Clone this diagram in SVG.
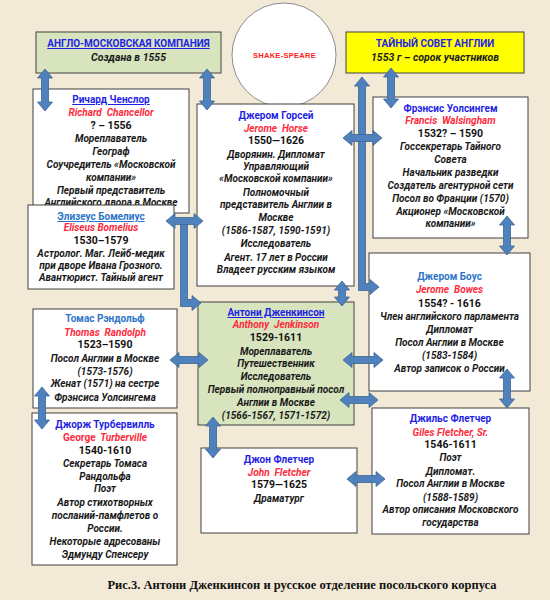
<svg xmlns="http://www.w3.org/2000/svg" width="550" height="600" viewBox="0 0 550 600">
<style>
.bg{fill:#F2EAD7}
.bx{fill:#FFFFFF;stroke:#404040;stroke-width:1}
.gr{fill:#D7E4BD}
.ye{fill:#FFFF00}
.t{font-family:Roboto,"Noto Sans","DejaVu Sans",sans-serif;font-size:10px;font-weight:bold;font-style:italic;text-anchor:middle;fill:#1a1a1a;white-space:pre}
.nm{font-style:normal;fill:#1F1FE6}
.nl{font-style:normal;fill:#2E75C8}
.u{text-decoration:underline}
.en{fill:#FF2A3C}
.yr{font-style:normal;font-size:10.5px;fill:#111}
.arr{fill:#4F81BD;stroke:#3A6496;stroke-width:0.8}
.cap{font-family:"Liberation Serif","Times New Roman",serif;font-size:12.5px;font-weight:bold;text-anchor:middle;fill:#111}
</style>
<rect class="bg" x="0" y="0" width="550" height="600"/>

<g id="shakespeare">
<circle cx="284" cy="55" r="52" fill="#FFFFFF" stroke="#8C8C8C" stroke-width="1"/>
<text x="284.5" y="58" style="font-family:'Liberation Sans',Arial,sans-serif;font-size:7.5px;font-weight:bold;fill:#FF2020;text-anchor:middle;letter-spacing:0.3px">SHAKE-SPEARE</text>
</g>

<g id="anglo-moscow">
<rect class="bx gr" x="36" y="32" width="185" height="41"/>
<text class="t nm u" x="128.5" y="47">АНГЛО-МОСКОВСКАЯ КОМПАНИЯ</text>
<text class="t" x="128.5" y="61" style="font-size:10.5px">Создана в 1555</text>
</g>

<g id="secret-council">
<rect class="bx ye" x="346" y="32" width="178" height="41"/>
<text class="t nm" x="435" y="47">ТАЙНЫЙ СОВЕТ АНГЛИИ</text>
<text class="t" x="435" y="60.5" style="font-size:10.5px">1553 г – сорок участников</text>
</g>

<g id="chancellor">
<rect class="bx" x="33" y="89" width="156" height="124"/>
<text class="t nm u" x="111" y="103">Ричард Ченслор</text>
<text class="t en" x="111" y="116" xml:space="preserve">Richard  Chancellor</text>
<text class="t yr" x="111" y="129">? – 1556</text>
<text class="t" x="111" y="142">Мореплаватель</text>
<text class="t" x="111" y="155">Географ</text>
<text class="t" x="111" y="168">Соучредитель «Московской</text>
<text class="t" x="111" y="181">компании»</text>
<text class="t" x="111" y="194">Первый представитель</text>
<text class="t" x="111" y="206">Английского двора в Москве</text>
</g>

<g id="bomelius">
<rect class="bx" x="28" y="205" width="146" height="84"/>
<text class="t nl u" x="101" y="220">Элизеус Бомелиус</text>
<text class="t en" x="101" y="231">Eliseus Bomelius</text>
<text class="t yr" x="101" y="244">1530–1579</text>
<text class="t" x="101" y="257">Астролог. Маг. Лейб-медик</text>
<text class="t" x="101" y="269">при дворе Ивана Грозного.</text>
<text class="t" x="101" y="281">Авантюрист. Тайный агент</text>
</g>

<g id="horsey">
<rect class="bx" x="197" y="104" width="157" height="182"/>
<text class="t nm" x="276" y="119">Джером Горсей</text>
<text class="t en" x="276" y="132" xml:space="preserve">Jerome  Horse</text>
<text class="t yr" x="276" y="144">1550—1626</text>
<text class="t" x="276" y="158">Дворянин. Дипломат</text>
<text class="t" x="276" y="170">Управляющий</text>
<text class="t" x="276" y="182">«Московской компании»</text>
<text class="t" x="276" y="196">Полномочный</text>
<text class="t" x="276" y="208">представитель Англии в</text>
<text class="t" x="276" y="221">Москве</text>
<text class="t" x="276" y="234">(1586-1587, 1590-1591)</text>
<text class="t" x="276" y="247">Исследователь</text>
<text class="t" x="276" y="261">Агент. 17 лет в России</text>
<text class="t" x="276" y="273">Владеет русским языком</text>
</g>

<g id="walsingham">
<rect class="bx" x="373" y="97" width="155" height="141"/>
<text class="t nm" x="450.5" y="112">Фрэнсис Уолсингем</text>
<text class="t en" x="450.5" y="124" xml:space="preserve">Francis  Walsingham</text>
<text class="t yr" x="450.5" y="137">1532? – 1590</text>
<text class="t" x="450.5" y="150">Госсекретарь Тайного</text>
<text class="t" x="450.5" y="163">Совета</text>
<text class="t" x="450.5" y="176">Начальник разведки</text>
<text class="t" x="450.5" y="189">Создатель агентурной сети</text>
<text class="t" x="450.5" y="202">Посол во Франции (1570)</text>
<text class="t" x="450.5" y="215">Акционер «Московской</text>
<text class="t" x="450.5" y="227">компании»</text>
</g>

<g id="bowes">
<rect class="bx" x="369" y="253" width="161" height="138"/>
<text class="t nl" x="449.5" y="280">Джером Боус</text>
<text class="t en" x="449.5" y="293" xml:space="preserve">Jerome  Bowes</text>
<text class="t yr" x="449.5" y="307">1554? - 1616</text>
<text class="t" x="449.5" y="320">Член английского парламента</text>
<text class="t" x="449.5" y="333">Дипломат</text>
<text class="t" x="449.5" y="346">Посол Англии в Москве</text>
<text class="t" x="449.5" y="359">(1583-1584)</text>
<text class="t" x="449.5" y="372">Автор записок о России</text>
</g>

<g id="jenkinson">
<rect class="bx gr" x="198" y="302" width="156" height="123"/>
<text class="t nm u" x="276" y="316">Антони Дженкинсон</text>
<text class="t en" x="276" y="328" xml:space="preserve">Anthony  Jenkinson</text>
<text class="t yr" x="276" y="341">1529-1611</text>
<text class="t" x="276" y="355">Мореплаватель</text>
<text class="t" x="276" y="367">Путешественник</text>
<text class="t" x="276" y="380">Исследователь</text>
<text class="t" x="276" y="393">Первый полноправный посол</text>
<text class="t" x="276" y="406">Англии в Москве</text>
<text class="t" x="276" y="419">(1566-1567, 1571-1572)</text>
</g>

<g id="randolph">
<rect class="bx" x="33" y="309" width="144" height="99"/>
<text class="t nl" x="105" y="322">Томас Рэндольф</text>
<text class="t en" x="105" y="336" xml:space="preserve">Thomas  Randolph</text>
<text class="t yr" x="105" y="348">1523–1590</text>
<text class="t" x="105" y="362">Посол Англии в Москве</text>
<text class="t" x="105" y="375">(1573-1576)</text>
<text class="t" x="105" y="387">Женат (1571) на сестре</text>
<text class="t" x="105" y="401">Фрэнсиса Уолсингема</text>
</g>

<g id="turberville">
<rect class="bx" x="32" y="413" width="145" height="152"/>
<text class="t nm" x="105" y="428">Джорж Турбервилль</text>
<text class="t en" x="105" y="441" xml:space="preserve"><tspan style="font-style:normal">George</tspan>  Turberville</text>
<text class="t yr" x="105" y="454">1540-1610</text>
<text class="t" x="105" y="467">Секретарь Томаса</text>
<text class="t" x="105" y="480">Рандольфа</text>
<text class="t" x="105" y="492">Поэт</text>
<text class="t" x="105" y="506">Автор стихотворных</text>
<text class="t" x="105" y="519">посланий-памфлетов о</text>
<text class="t" x="105" y="532">России.</text>
<text class="t" x="105" y="545">Некоторые адресованы</text>
<text class="t" x="105" y="558">Эдмунду Спенсеру</text>
</g>

<g id="john-fletcher">
<rect class="bx" x="201" y="448" width="156" height="85"/>
<text class="t nm" x="279" y="463">Джон Флетчер</text>
<text class="t en" x="279" y="476" xml:space="preserve">John  Fletcher</text>
<text class="t yr" x="279" y="488">1579—1625</text>
<text class="t" x="279" y="502">Драматург</text>
</g>

<g id="giles-fletcher">
<rect class="bx" x="372" y="408" width="157" height="126"/>
<text class="t nm" x="450.5" y="422">Джильс Флетчер</text>
<text class="t en" x="450.5" y="436">Giles Fletcher, Sr.</text>
<text class="t yr" x="450.5" y="448">1546-1611</text>
<text class="t" x="450.5" y="461">Поэт</text>
<text class="t" x="450.5" y="475">Дипломат.</text>
<text class="t" x="450.5" y="487">Посол Англии в Москве</text>
<text class="t" x="450.5" y="501">(1588-1589)</text>
<text class="t" x="450.5" y="513">Автор описания Московского</text>
<text class="t" x="450.5" y="526">государства</text>
</g>

<g id="connectors">
<polygon class="arr" points="45,69 52.5,78 48.5,78 48.5,102 52.5,102 45,111 37.5,102 41.5,102 41.5,78 37.5,78"/>
<polygon class="arr" points="207,69 214.5,78 210.5,78 210.5,101 214.5,101 207,110 199.5,101 203.5,101 203.5,78 199.5,78"/>
<polygon class="arr" points="391,68 398.5,77 394.5,77 394.5,99 398.5,99 391,108 383.5,99 387.5,99 387.5,77 383.5,77"/>
<polygon class="arr" points="362,77 369.5,86 365.5,86 365.5,283.5 370,283.5 370,279.5 379,287 370,294.5 370,290.5 358.5,290.5 358.5,86 354.5,86"/>
<polygon class="arr" points="343,138 352,130.5 352,134.5 373,134.5 373,130.5 382,138 373,145.5 373,141.5 352,141.5 352,145.5"/>
<polygon class="arr" points="507,216 514.5,225 510.5,225 510.5,246 514.5,246 507,255 499.5,246 503.5,246 503.5,225 499.5,225"/>
<polygon class="arr" points="507,369 514.5,378 510.5,378 510.5,399 514.5,399 507,408 499.5,399 503.5,399 503.5,378 499.5,378"/>
<polygon class="arr" points="180.5,224 187.5,224 187.5,299.5 192,299.5 192,295.5 201,303 192,310.5 192,306.5 180.5,306.5"/>
<polygon class="arr" points="166,221 175,213.5 175,217.5 194,217.5 194,213.5 203,221 194,228.5 194,224.5 175,224.5 175,228.5"/>
<polygon class="arr" points="342,281 349.5,290 345.5,290 345.5,297 349.5,297 342,306 334.5,297 338.5,297 338.5,290 334.5,290"/>
<polygon class="arr" points="343,360 352,352.5 352,356.5 374,356.5 374,352.5 383,360 374,367.5 374,363.5 352,363.5 352,367.5"/>
<polygon class="arr" points="340,400 349,392.5 349,396.5 369,396.5 369,392.5 378,400 369,407.5 369,403.5 349,403.5 349,407.5"/>
<polygon class="arr" points="170,360 179,352.5 179,356.5 199,356.5 199,352.5 208,360 199,367.5 199,363.5 179,363.5 179,367.5"/>
<polygon class="arr" points="42,387 49.5,396 45.5,396 45.5,420 49.5,420 42,429 34.5,420 38.5,420 38.5,396 34.5,396"/>
<polygon class="arr" points="213,417 220.5,426 216.5,426 216.5,449 220.5,449 213,458 205.5,449 209.5,449 209.5,426 205.5,426"/>
<polygon class="arr" points="347,479 356,471.5 356,475.5 376,475.5 376,471.5 385,479 376,486.5 376,482.5 356,482.5 356,486.5"/>
</g>

<text class="cap" x="302" y="589">Рис.3. Антони Дженкинсон и русское отделение посольского корпуса</text>
</svg>
